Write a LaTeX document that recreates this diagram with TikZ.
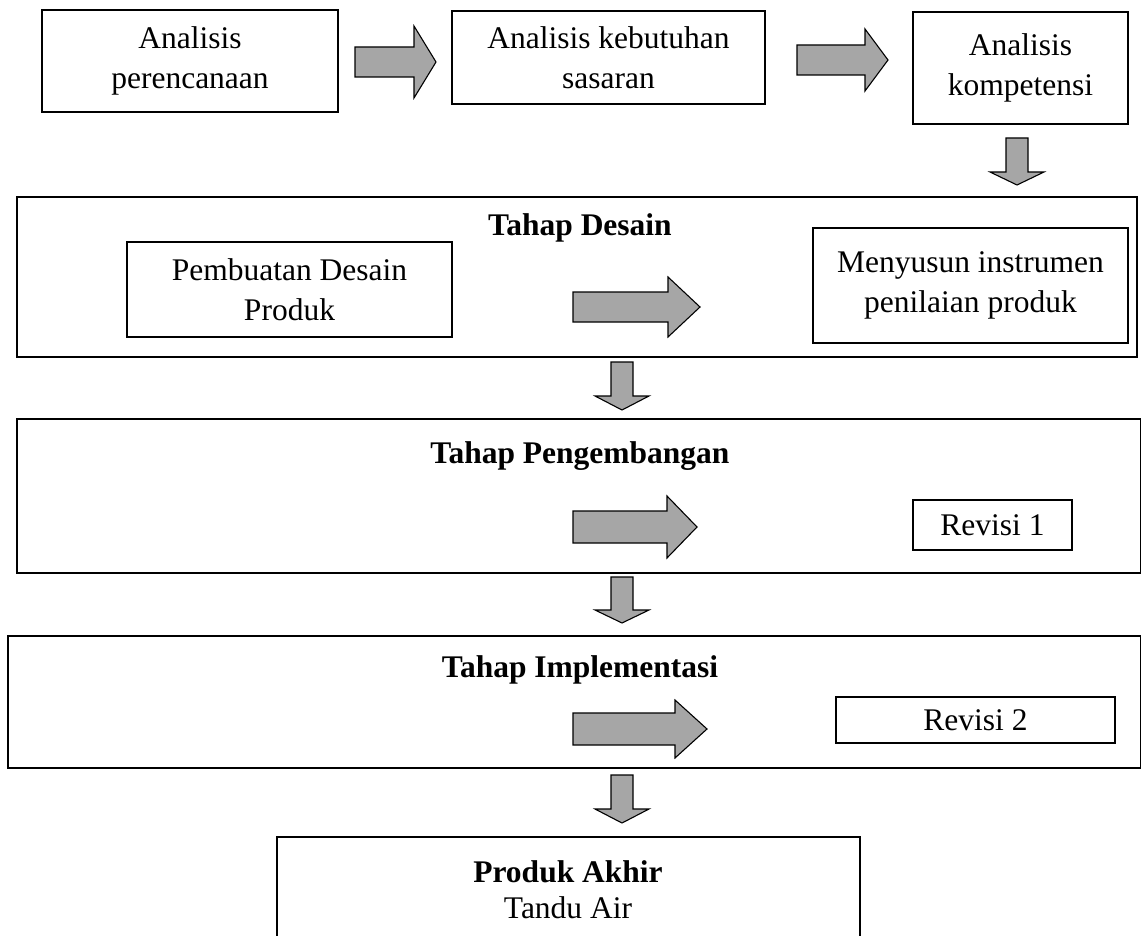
\documentclass[tikz,border=0pt]{standalone}
\usepackage{fontspec}
\setmainfont{Liberation Serif}
\definecolor{arrowgray}{RGB}{166,166,166}
\begin{document}
\begin{tikzpicture}[x=1pt,y=-1pt,
  box/.style={draw=black,line width=1.2pt,align=center,inner sep=0pt,
    font=\fontsize{31.5}{40}\selectfont},
  stage/.style={draw=black,line width=1.6pt,inner sep=0pt},
  title/.style={font=\fontsize{31.5}{40}\selectfont\bfseries,align=center,inner sep=0pt},
  blockarrow/.style={draw=black,line width=1.1pt,fill=arrowgray,line join=miter}]
\useasboundingbox (0,0) rectangle (1141,936);
% right arrow: left, headbase, tip, ycenter, shaft half, head half
\newcommand{\rarr}[6]{\draw[blockarrow] (#1,{#4-#5}) -- (#2,{#4-#5}) -- (#2,{#4-#6}) -- (#3,#4) -- (#2,{#4+#6}) -- (#2,{#4+#5}) -- (#1,{#4+#5}) -- cycle;}
% down arrow: xcenter, top, headbase, tip, shaft half, head half
\newcommand{\darr}[6]{\draw[blockarrow] ({#1-#5},#2) -- ({#1+#5},#2) -- ({#1+#5},#3) -- ({#1+#6},#3) -- (#1,#4) -- ({#1-#6},#3) -- ({#1-#5},#3) -- cycle;}

% top row
\node[box,minimum width=296,minimum height=102] (a1) at (190,61) {Analisis\\perencanaan};
\node[box,minimum width=313,minimum height=93] (a2) at (608.5,57.5) {Analisis kebutuhan\\sasaran};
\node[box,minimum width=215,minimum height=112] (a3) at (1020.5,68) {Analisis\\kompetensi};
\rarr{355}{414}{436}{62}{15}{36}
\rarr{797}{865}{888}{60}{15}{31}
\darr{1017}{138}{172}{185}{11}{27}

% Tahap Desain
\node[stage,minimum width=1120,minimum height=160] (s1) at (577,277) {};
\node[title] (t1) at (580,228) {Tahap Desain};
\node[box,minimum width=325,minimum height=95] (d1) at (289.5,289.5) {Pembuatan Desain\\Produk};
\node[box,minimum width=315,minimum height=115] (d2) at (970.5,285.5) {Menyusun instrumen\\penilaian produk};
\rarr{573}{668}{700}{307}{15}{30}
\darr{622}{362}{396}{410}{11}{27}

% Tahap Pengembangan
\node[stage,minimum width=1124,minimum height=154] (s2) at (579,496) {};
\node[title] (t2) at (580,456) {Tahap Pengembangan};
\node[box,minimum width=159,minimum height=50] (r1) at (992.5,525) {Revisi 1};
\rarr{573}{667}{697}{527}{16}{31}
\darr{622}{577}{610}{623}{11}{27}

% Tahap Implementasi
\node[stage,minimum width=1133,minimum height=132] (s3) at (574.5,702) {};
\node[title] (t3) at (580,670) {Tahap Implementasi};
\node[box,minimum width=279,minimum height=46] (r2) at (975.5,720) {Revisi 2};
\rarr{573}{675}{707}{729}{16}{29}
\darr{622}{775}{809}{823}{11}{27}

% Produk Akhir
\node[stage,line width=1.3pt,minimum width=583,minimum height=140] (p) at (568.5,907) {};
\node[title] (pt) at (568,872) {Produk Akhir};
\node[box,draw=none] (pt2) at (568,908) {Tandu Air};
\end{tikzpicture}
\end{document}
